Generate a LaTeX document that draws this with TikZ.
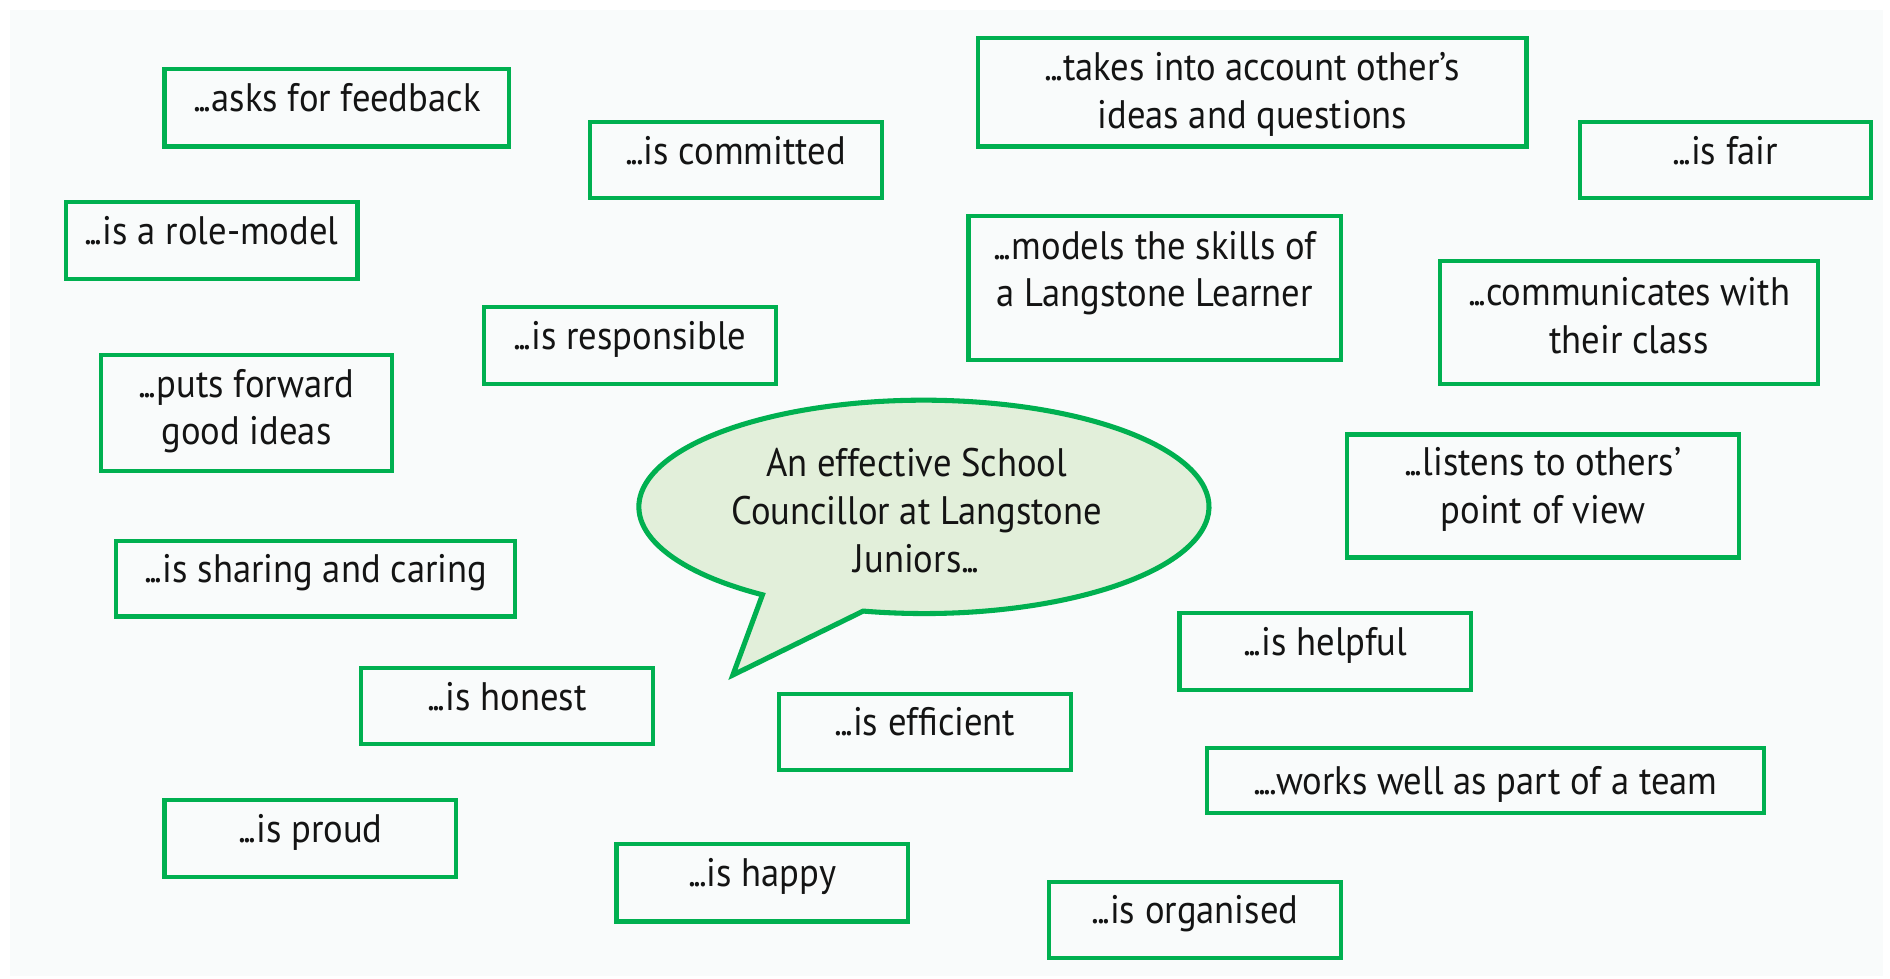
\documentclass[tikz,border=0pt]{standalone}
\usepackage{fontspec}
\setmainfont{PT Sans}[FakeStretch=0.92]
\usetikzlibrary{calc}
\definecolor{boxgreen}{HTML}{00B050}
\definecolor{bubblefill}{HTML}{E2EFDA}
\definecolor{bgcol}{HTML}{F9FBFB}
\definecolor{txtcol}{HTML}{141414}
\newcommand\tdots{.\kern-2.2pt.\kern-2.2pt.}
\tikzset{
  cell/.style={draw=boxgreen, line width=3.5pt, inner sep=0pt, align=center,
    text=txtcol, font=\fontsize{33}{39.5}\selectfont},
  single/.style={cell, text height=23.8pt, text depth=17.2pt},
  bubble/.style={draw=boxgreen, fill=bubblefill, line width=4.2pt, line join=miter},
  bubbletxt/.style={inner sep=0pt, align=center, text=txtcol,
    font=\fontsize{33}{39.8}\selectfont, text depth=0pt}
}
\begin{document}
\begin{tikzpicture}[x=1pt, y=-1pt]
\useasboundingbox (0,0) rectangle (1568,812);
\fill[bgcol] (8,8) rectangle (1562,810);

% single-line boxes
\node[single, minimum width=286pt, minimum height=64pt] (asks) at (279.5,89.5) {\tdots asks for feedback};
\node[single, minimum width=242pt, minimum height=63pt] (committed) at (610.5,133) {\tdots is committed};
\node[single, minimum width=242pt, minimum height=63pt] (fair) at (1431.5,133) {\tdots is fair};
\node[single, minimum width=242pt, minimum height=64pt] (rolemodel) at (175.5,199.5) {\tdots is a role-model};
\node[single, minimum width=242pt, minimum height=64pt] (responsible) at (522.5,286.5) {\tdots is responsible};
\node[single, minimum width=331pt, minimum height=63pt] (sharing) at (262,480) {\tdots is sharing and caring};
\node[single, minimum width=242pt, minimum height=63pt] (honest) at (420.5,586) {\tdots is honest};
\node[single, minimum width=242pt, minimum height=64pt] (helpful) at (1099.5,540.5) {\tdots is helpful};
\node[single, minimum width=242pt, minimum height=63pt] (efficient) at (767.5,607) {\tdots is efficient};
\node[single, text depth=0.6pt, minimum width=462pt, minimum height=54pt] (works) at (1232.5,647.5) {.\kern-2.2pt\tdots works well as part of a team};
\node[single, minimum width=242pt, minimum height=64pt] (proud) at (257.5,695.5) {\tdots is proud};
\node[single, minimum width=242pt, minimum height=64pt] (happy) at (632.5,732.5) {\tdots is happy};
\node[single, minimum width=242pt, minimum height=63pt] (organised) at (991.5,763) {\tdots is organised};

% two-line boxes
\node[cell, text depth=3.3pt, minimum width=455pt, minimum height=90pt] (takes) at (1039,76.5) {\tdots takes into account other’s\\ideas and questions};
\node[cell, text depth=32pt, minimum width=309pt, minimum height=119pt] (models) at (958,239) {\tdots models the skills of\\a Langstone Learner};
\node[cell, text depth=12pt, minimum width=314pt, minimum height=102pt] (communicates) at (1351.5,267.5) {\tdots communicates with\\their class};
\node[cell, text depth=10pt, minimum width=242pt, minimum height=96pt] (puts) at (204.5,342.5) {\tdots puts forward\\good ideas};
\node[cell, text depth=18pt, minimum width=325pt, minimum height=102pt] (listens) at (1280,411.5) {\tdots listens to others’\\point of view};

% speech bubble
\coordinate (bc) at (766.5,420.5);
\coordinate (tip) at (608,560);
\draw[bubble] ($(bc)+(102.3:236.5 and 88.5)$) arc[start angle=102.3, end angle=-235.5, x radius=236.5, y radius=88.5] -- (tip) -- cycle;
\node[bubbletxt] (centre) at (760.5,423.6) {An effective School\\Councillor at Langstone\\Juniors\tdots};
\end{tikzpicture}
\end{document}
